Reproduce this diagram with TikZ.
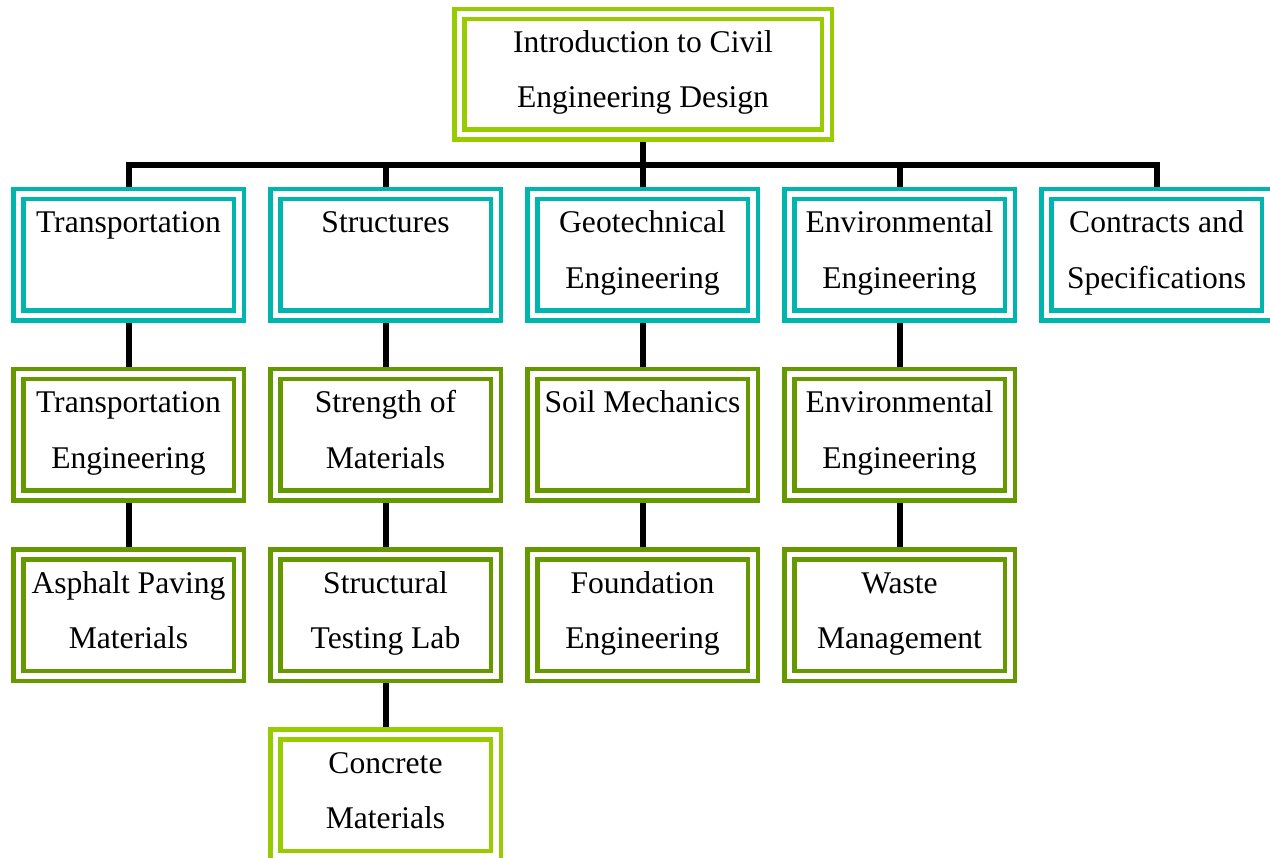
\documentclass[tikz,border=0pt]{standalone}
\usepackage{fontspec}
\setmainfont{Liberation Serif}
\usetikzlibrary{backgrounds}

\definecolor{boxteal}{RGB}{0,181,173}
\definecolor{boxdark}{RGB}{102,153,0}
\definecolor{boxlight}{RGB}{153,204,0}

% strut that fixes the two text lines at the same height in every box
\newcommand{\lnstrut}{\rule[-18.5pt]{0pt}{48.5pt}}

\tikzset{
  box/.style={rectangle, fill=white, line width=4.5pt, double=white,
    double distance=5.5pt, minimum width=220.5pt, minimum height=121.5pt,
    inner sep=0pt, align=center,
    font=\fontsize{31.6}{55.5}\selectfont},
  tealbox/.style={box, draw=boxteal},
  darkbox/.style={box, draw=boxdark},
  lightbox/.style={box, draw=boxlight},
  conn/.style={draw=black, line width=6pt}
}

\begin{document}
\begin{tikzpicture}[x=1pt, y=-1pt]
  \clip (0,0) rectangle (1270,858);

  % root
  \node[lightbox, minimum width=367.5pt, minimum height=120.5pt]
    (root) at (643,74.5) {\lnstrut Introduction to Civil\\\lnstrut Engineering Design};

  % first level
  \node[tealbox] (trans)  at (128.5,255) {\lnstrut Transportation\\\lnstrut};
  \node[tealbox] (struct) at (385.5,255) {\lnstrut Structures\\\lnstrut};
  \node[tealbox] (geo)    at (642.5,255) {\lnstrut Geotechnical\\\lnstrut Engineering};
  \node[tealbox] (env)    at (899.5,255) {\lnstrut Environmental\\\lnstrut Engineering};
  \node[tealbox] (contr)  at (1156.5,255) {\lnstrut Contracts and\\\lnstrut Specifications};

  % second level
  \node[darkbox] (transeng) at (128.5,435) {\lnstrut Transportation\\\lnstrut Engineering};
  \node[darkbox] (strength) at (385.5,435) {\lnstrut Strength of\\\lnstrut Materials};
  \node[darkbox] (soil)     at (642.5,435) {\lnstrut Soil Mechanics\\\lnstrut};
  \node[darkbox] (enveng)   at (899.5,435) {\lnstrut Environmental\\\lnstrut Engineering};

  % third level
  \node[darkbox] (asphalt)  at (128.5,615) {\lnstrut Asphalt Paving\\\lnstrut Materials};
  \node[darkbox] (lab)      at (385.5,615) {\lnstrut Structural\\\lnstrut Testing Lab};
  \node[darkbox] (found)    at (642.5,615) {\lnstrut Foundation\\\lnstrut Engineering};
  \node[darkbox] (waste)    at (899.5,615) {\lnstrut Waste\\\lnstrut Management};

  % fourth level
  \node[lightbox] (concrete) at (385.5,795) {\lnstrut Concrete\\\lnstrut Materials};

  \coordinate (bus) at (643,165);

  \begin{scope}[on background layer]
    \fill[white] (0,0) rectangle (1270,858);
    \draw[conn] (root.south) -- (bus);
    \foreach \n in {trans, struct, geo, env, contr}
      \draw[conn] (\n.north) |- (bus);
    \draw[conn] (trans.south) -- (transeng.north);
    \draw[conn] (transeng.south) -- (asphalt.north);
    \draw[conn] (struct.south) -- (strength.north);
    \draw[conn] (strength.south) -- (lab.north);
    \draw[conn] (lab.south) -- (concrete.north);
    \draw[conn] (geo.south) -- (soil.north);
    \draw[conn] (soil.south) -- (found.north);
    \draw[conn] (env.south) -- (enveng.north);
    \draw[conn] (enveng.south) -- (waste.north);
  \end{scope}
\end{tikzpicture}
\end{document}
